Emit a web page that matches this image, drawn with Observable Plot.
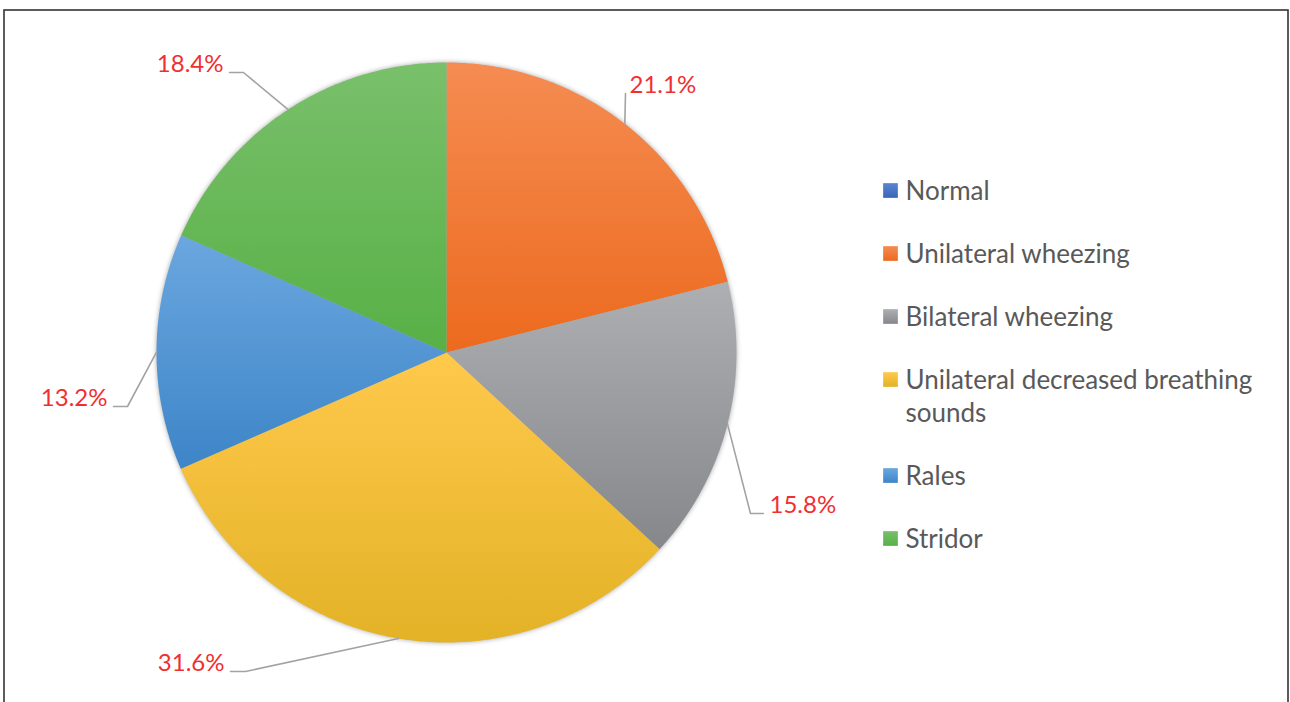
<!DOCTYPE html>
<html>
<head>
<meta charset="utf-8">
<script src="https://cdn.jsdelivr.net/npm/d3@7"></script>
<script src="https://cdn.jsdelivr.net/npm/@observablehq/plot@0.6"></script>
<style>
  html, body { margin: 0; padding: 0; background: #fff; }
  #chart svg { display: block; }
</style>
</head>
<body>
<div id="chart"></div>
<script>
// ---------- data ----------
const categories = ["Normal", "Unilateral wheezing", "Bilateral wheezing", "Unilateral decreased breathing sounds", "Rales", "Stridor"];
const legendText = ["Normal", "Unilateral wheezing", "Bilateral wheezing", "Unilateral decreased breathing\nsounds", "Rales", "Stridor"];
const percents = [0, 21.1, 15.8, 31.6, 13.2, 18.4];

// ---------- styles ----------
const gradTop =    ["#5a86d0", "#f58c52", "#aeafb3", "#ffc94c", "#6ba7df", "#79c06b"];
const gradBottom = ["#3a66b8", "#ec6a1e", "#85878b", "#e3b226", "#3d85c8", "#58b046"];
const labelColor = "#f03030";
const legendColor = "#595959";
const font = "Lato, 'Open Sans', sans-serif";

// ---------- layout ----------
const W = 1290, H = 702;
const cx = 446, cy = 352, R = 290;
// leader-line elbow offsets from the pie centre, tail length (signed) per non-zero slice
const labelLayout = {
  "Unilateral wheezing": {dx: 179, dy: -259, tail: 0},
  "Bilateral wheezing": {dx: 304, dy: 161, tail: 13},
  "Unilateral decreased breathing sounds": {dx: -201, dy: 319, tail: -15},
  "Rales": {dx: -319, dy: 54, tail: -14},
  "Stridor": {dx: -203, dy: -280, tail: -14}
};
const legendX = 890, legendTop = 190, legendGap = 63, legendLineGap = 33;
const legendFont = 26;

// ---------- derived geometry ----------
const rows = categories.map((c, i) => ({cat: c, value: percents[i], i}));
const arcs = d3.pie().sort(null).value(d => d.value)(rows);
const pt = (a, r) => [cx + r * Math.sin(a), cy - r * Math.cos(a)];

const sliceFeatures = arcs.filter(a => a.data.value > 0).map(a => {
  const n = Math.max(2, Math.ceil((a.endAngle - a.startAngle) / (Math.PI / 360)));
  const ring = [[cx, cy]];
  for (let k = 0; k <= n; k++) ring.push(pt(a.startAngle + (a.endAngle - a.startAngle) * k / n, R));
  ring.push([cx, cy]);
  return {type: "Feature", properties: {cat: a.data.cat}, geometry: {type: "Polygon", coordinates: [ring]}};
});

const leaderFeatures = [];
const labelData = [];
arcs.filter(a => a.data.value > 0).forEach(a => {
  const L = labelLayout[a.data.cat];
  const mid = (a.startAngle + a.endAngle) / 2;
  const edge = pt(mid, R);
  const elbow = [cx + L.dx, cy + L.dy];
  const coords = [edge, elbow];
  if (L.tail !== 0) coords.push([elbow[0] + L.tail, elbow[1]]);
  leaderFeatures.push({type: "Feature", properties: {}, geometry: {type: "LineString", coordinates: coords}});
  let tx, anchor;
  if (L.tail === 0) { tx = elbow[0] + 4; anchor = "start"; }
  else if (L.tail > 0) { tx = elbow[0] + L.tail + 6; anchor = "start"; }
  else { tx = elbow[0] + L.tail - 6; anchor = "end"; }
  labelData.push({x: tx, y: elbow[1] - 8, text: d3.format(".1f")(a.data.value) + "%", anchor});
});

let extra = 0;
const legendData = categories.map((c, i) => {
  const y = legendTop + i * legendGap + extra * legendLineGap;
  extra += legendText[i].split("\n").length - 1;
  return {cat: c, y, text: legendText[i]};
});

const gradIds = categories.map((c, i) => `grad${i}`);

// ---------- plot ----------
const plot = Plot.plot({
  width: W,
  height: H,
  margin: 0,
  projection: {type: "identity", domain: {type: "MultiPoint", coordinates: [[0, 0], [W, H]]}},
  color: {type: "ordinal", domain: categories, range: gradIds.map(id => `url(#${id})`)},
  style: {fontFamily: font, background: "#fff"},
  marks: [
    Plot.frame({stroke: "#333", strokeWidth: 1.6, insetLeft: 3.5, insetTop: 9.5, insetRight: 2.5, insetBottom: -10}),
    Plot.geo(sliceFeatures, {
      fill: d => d.properties.cat,
      stroke: "none",
      imageFilter: "drop-shadow(0px 0px 2.5px rgba(0,0,0,0.35))"
    }),
    Plot.geo(leaderFeatures, {stroke: "#a3a3a3", strokeWidth: 1.6, fill: "none"}),
    Plot.text(labelData.filter(d => d.anchor === "start"), {
      x: d => d.x, y: d => d.y, text: d => d.text, textAnchor: "start",
      fill: labelColor, fontSize: 24
    }),
    Plot.text(labelData.filter(d => d.anchor === "end"), {
      x: d => d.x, y: d => d.y, text: d => d.text, textAnchor: "end",
      fill: labelColor, fontSize: 24
    }),
    Plot.dot(legendData, {
      x: () => legendX, y: d => d.y, symbol: "square", r: 8.3,
      fill: d => d.cat, stroke: "none"
    }),
    Plot.text(legendData, {
      x: () => legendX + 15, y: d => d.y, text: d => d.text, textAnchor: "start",
      lineAnchor: "top", dy: -14, lineHeight: legendLineGap / legendFont,
      fill: legendColor, fontSize: legendFont
    })
  ]
});

// gradient definitions for the slice fills (per-slice bounding box, light top → dark bottom)
const defs = d3.select(plot).insert("defs", ":first-child");
gradIds.forEach((id, i) => {
  const g = defs.append("linearGradient").attr("id", id).attr("x1", 0).attr("y1", 0).attr("x2", 0).attr("y2", 1);
  g.append("stop").attr("offset", "0%").attr("stop-color", gradTop[i]);
  g.append("stop").attr("offset", "100%").attr("stop-color", gradBottom[i]);
});

document.getElementById("chart").appendChild(plot);
</script>
</body>
</html>
